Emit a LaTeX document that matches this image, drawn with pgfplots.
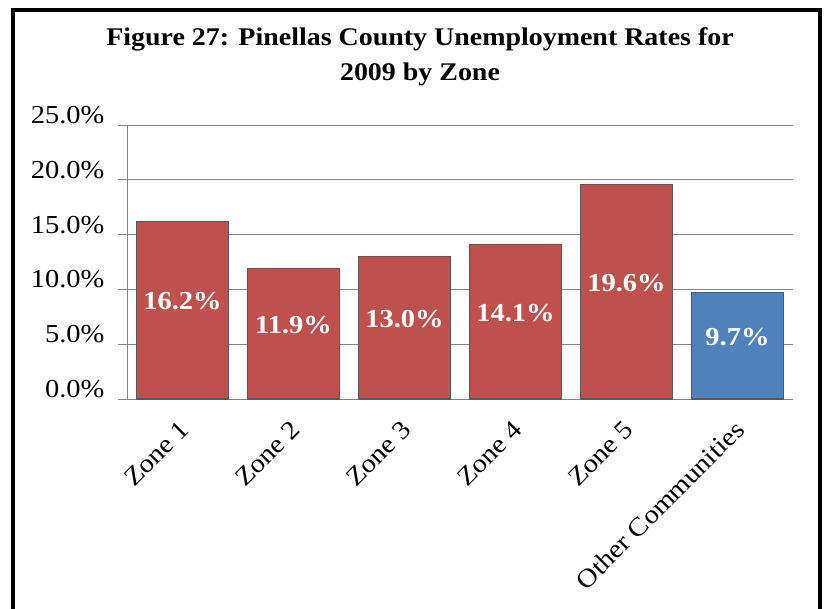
\documentclass[border=0pt]{standalone}
\usepackage{pgfplots}
\pgfplotsset{compat=1.18}
\usepackage{fontspec}
\setmainfont{Liberation Serif}[FakeStretch=1.1]
\definecolor{barred}{HTML}{C0504D}
\definecolor{barblue}{HTML}{4F81BD}
\definecolor{gridgray}{HTML}{868686}
\definecolor{edgegray}{HTML}{595959}
\begin{document}
\begin{tikzpicture}
\path[use as bounding box] (0,0) rectangle (826bp,-609bp);
\draw[line width=4bp] (13bp,-620bp) -- (13bp,-10bp) -- (820bp,-10bp) -- (820bp,-620bp);
\node[align=center, font=\fontsize{25.5}{35}\selectfont\bfseries] at (420bp,-57bp)
  {Figure 27: Pinellas County Unemployment Rates for\\2009 by Zone};
\begin{axis}[
  anchor=south west, at={(127bp,-399bp)},
  scale only axis, width=666bp, height=274bp,
  ybar, bar shift=0pt, bar width=0.83,
  xmin=-0.5, xmax=5.5, ymin=0, ymax=25,
  axis x line*=bottom, axis y line*=left,
  axis line style={gridgray, line width=1bp},
  ytick={0,5,10,15,20,25},
  ymajorgrids, grid style={gridgray, line width=1bp},
  major tick length=9bp, tick align=outside,
  tick style={gridgray, line width=1bp},
  /pgf/number format/assume math mode=true,
  yticklabel={\pgfmathprintnumber[fixed,fixed zerofill,precision=1]{\tick}\%},
  yticklabel style={font=\fontsize{26}{30}\selectfont, xshift=-10bp, yshift=10bp},
  xtick={0,1,2,3,4,5},
  xticklabels={Zone 1, Zone 2, Zone 3, Zone 4, Zone 5, Other Communities},
  x tick style={draw=none},
  xticklabel style={font=\fontsize{26}{30}\selectfont, rotate=45, anchor=east, xshift=-7bp, yshift=-14bp},
  extra x ticks={-0.5,0.5,1.5,2.5,3.5,4.5,5.5},
  extra x tick labels={},
  extra x tick style={tick style={gridgray, line width=1bp, draw=gridgray}, major tick length=9bp, grid=none},
  nodes near coords={\pgfmathprintnumber[fixed,fixed zerofill,precision=1]{\pgfplotspointmeta}\%},
  visualization depends on={y \as \rawy},
  every node near coord/.append style={font=\fontsize{26}{30}\selectfont\bfseries, text=white,
     anchor=center, shift={(axis direction cs:0,-\rawy/2)}, yshift=9bp},
]
\addplot[fill=barred, draw=edgegray, line width=1.2bp] coordinates {(0,16.2) (1,11.9) (2,13.0) (3,14.1) (4,19.6)};
\addplot[fill=barblue, draw=edgegray, line width=1.2bp] coordinates {(5,9.7)};
\end{axis}
\end{tikzpicture}
\end{document}
